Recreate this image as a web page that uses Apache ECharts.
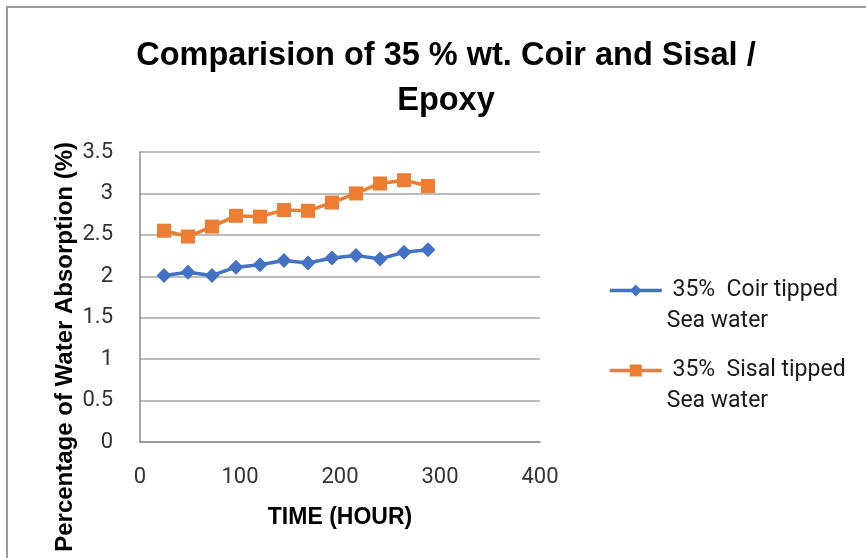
<!DOCTYPE html>
<html>
<head>
<meta charset="utf-8">
<script src="https://cdn.jsdelivr.net/npm/echarts@6/dist/echarts.min.js"></script>
<style>
  html, body { margin: 0; padding: 0; background: #fff; }
  #main { width: 866px; height: 558px; }
</style>
</head>
<body>
<div id="main"></div>
<script>
// 时间（小时）
var hours = [24, 48, 72, 96, 120, 144, 168, 192, 216, 240, 264, 288];
// 35% 椰壳纤维 海水
var coirValues = [2.01, 2.05, 2.01, 2.11, 2.14, 2.19, 2.16, 2.22, 2.25, 2.21, 2.29, 2.32];
// 35% 剑麻纤维 海水
var sisalValues = [2.55, 2.48, 2.60, 2.73, 2.72, 2.80, 2.79, 2.89, 3.00, 3.12, 3.16, 3.09];
var seriesNames = [' 35%  Coir tipped\nSea water', ' 35%  Sisal tipped\nSea water'];

var boldFont = '"Liberation Sans", Arial, sans-serif';
var labelFont = 'Roboto, "Liberation Sans", sans-serif';

function pairs(xs, ys) {
    return xs.map(function (x, i) { return [x, ys[i]]; });
}

// 图例：图标要和第一行文字对齐，前面加一个空行让第一行落在中间
function legendAt(name, top) {
    return {
        orient: 'vertical',
        left: 603,
        top: top,
        itemWidth: 52,
        itemHeight: 15,
        lineStyle: { width: 3.5 },
        formatter: function (n) {
            return '\n' + n;
        },
        textStyle: {
            fontFamily: labelFont,
            fontSize: 23,
            lineHeight: 31,
            color: '#1a1a1a'
        },
        data: [name]
    };
}

var myChart = echarts.init(document.getElementById('main'));

var option = {
    backgroundColor: '#fff',
    animation: false,
    title: {
        text: 'Comparision of 35 % wt. Coir and Sisal /\nEpoxy',
        left: 441,
        top: 29,
        textAlign: 'center',
        textStyle: {
            fontFamily: boldFont,
            fontWeight: 'bold',
            fontSize: 32.5,
            lineHeight: 45,
            color: '#000'
        }
    },
    grid: {
        left: 140,
        right: 326,
        top: 152,
        bottom: 116
    },
    legend: [
        legendAt(seriesNames[0], 239),
        legendAt(seriesNames[1], 319)
    ],
    xAxis: {
        type: 'value',
        min: 0,
        max: 400,
        interval: 100,
        name: 'TIME (HOUR)',
        nameLocation: 'middle',
        nameGap: 64,
        nameTextStyle: {
            fontFamily: boldFont,
            fontWeight: 'bold',
            fontSize: 23,
            color: '#000'
        },
        axisLine: { show: true, lineStyle: { color: '#8c8c8c', width: 1.5 } },
        axisTick: { show: false },
        splitLine: { show: false },
        axisLabel: {
            margin: 24,
            fontFamily: labelFont,
            fontSize: 22,
            color: '#333'
        }
    },
    yAxis: {
        type: 'value',
        min: 0,
        max: 3.5,
        interval: 0.5,
        axisLine: { show: true, lineStyle: { color: '#8c8c8c', width: 1.5 } },
        axisTick: { show: false },
        splitLine: { show: true, lineStyle: { color: '#a6a6a6', width: 1.5 } },
        axisLabel: {
            margin: 27,
            fontFamily: labelFont,
            fontSize: 22,
            color: '#333'
        }
    },
    graphic: [
        {
            type: 'rect',
            shape: { x: 7, y: 7, width: 880, height: 600 },
            style: { fill: 'none', stroke: '#9a9a9a', lineWidth: 2 },
            silent: true
        },
        {
            type: 'text',
            x: 65,
            y: 142,
            rotation: Math.PI / 2,
            style: {
                text: 'Percentage of Water Absorption (%)',
                fontFamily: boldFont,
                fontWeight: 'bold',
                fontSize: 24,
                fill: '#000',
                align: 'right',
                verticalAlign: 'middle'
            }
        }
    ],
    series: [
        {
            name: seriesNames[0],
            type: 'line',
            data: pairs(hours, coirValues),
            symbol: 'diamond',
            symbolSize: 15,
            lineStyle: { color: '#4472C4', width: 3.5 },
            itemStyle: { color: '#4472C4' }
        },
        {
            name: seriesNames[1],
            type: 'line',
            data: pairs(hours, sisalValues),
            symbol: 'rect',
            symbolSize: 14,
            lineStyle: { color: '#ED7D31', width: 3.5 },
            itemStyle: { color: '#ED7D31' }
        }
    ]
};

myChart.setOption(option);
</script>
</body>
</html>
